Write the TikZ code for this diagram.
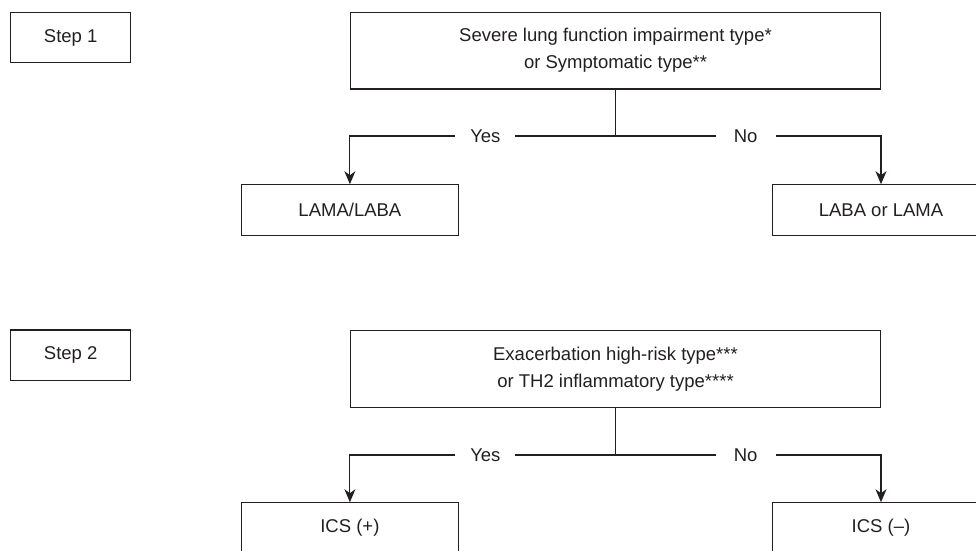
\documentclass[tikz,border=0pt]{standalone}
\usepackage{fontspec}
\setmainfont{Liberation Sans}
\usetikzlibrary{arrows.meta}
\definecolor{ink}{HTML}{231F20}
\begin{document}
\begin{tikzpicture}[x=1pt,y=-1pt,
  every node/.style={text=ink},
  box/.style={draw=ink,line width=1.1pt,inner sep=0pt,align=center,
    font=\fontsize{18.5}{27}\selectfont},
  lbl/.style={fill=white,inner sep=0pt,minimum width=60pt,minimum height=20pt,
    font=\fontsize{18.5}{22}\selectfont},
  conn/.style={draw=ink,line width=1.1pt},
  arr/.style={conn,-{Stealth[length=13pt,width=11pt,inset=4pt]}}]
\useasboundingbox (0,0) rectangle (976,550);
% Step 1
\node[box,minimum width=120pt,minimum height=50.4pt] (s1) at (70.7,37.5) {Step 1};
\node[box,minimum width=529.6pt,minimum height=76.7pt] (q1) at (615.5,50.65)
  {Severe lung function impairment type*\\or Symptomatic type**};
\node[box,minimum width=216.3pt,minimum height=50.3pt] (a1) at (349.9,209.9) {LAMA/LABA};
\node[box,minimum width=216.3pt,minimum height=50.3pt] (b1) at (881,209.9) {LABA or LAMA};
\coordinate (j1) at (615.5,136);
\draw[conn] (q1.south) -- (j1);
\draw[arr] (j1) -| node[lbl,pos=0.245]{Yes} (a1.north);
\draw[arr] (j1) -| node[lbl,pos=0.245]{No} (b1.north);
% Step 2
\node[box,minimum width=120pt,minimum height=50.4pt] (s2) at (70.7,355.2) {Step 2};
\node[box,minimum width=529.6pt,minimum height=76.7pt] (q2) at (615.5,369)
  {Exacerbation high-risk type***\\or TH2 inflammatory type****};
\node[box,minimum width=216.3pt,minimum height=50.3pt] (a2) at (349.9,527.9) {ICS (+)};
\node[box,minimum width=216.3pt,minimum height=50.3pt] (b2) at (881,527.9) {ICS (–)};
\coordinate (j2) at (615.5,455);
\draw[conn] (q2.south) -- (j2);
\draw[arr] (j2) -| node[lbl,pos=0.245]{Yes} (a2.north);
\draw[arr] (j2) -| node[lbl,pos=0.245]{No} (b2.north);
\end{tikzpicture}
\end{document}
